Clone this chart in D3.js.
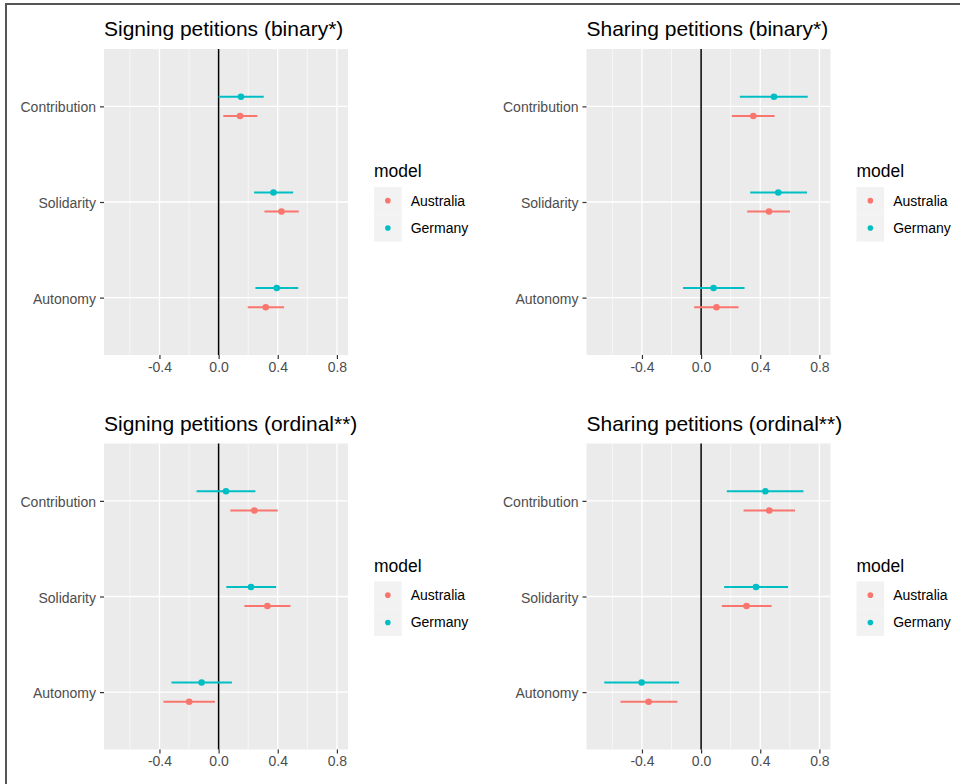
<!DOCTYPE html>
<html>
<head>
<meta charset="utf-8">
<script src="https://cdn.jsdelivr.net/npm/d3@7"></script>
<style>
  html, body { margin: 0; padding: 0; background: #fff; }
  svg { display: block; font-family: "Liberation Sans", Arial, sans-serif; }
</style>
</head>
<body>
<svg id="chart" width="960" height="784"></svg>
<script>
// ---------------- data ----------------
const categories = ["Contribution", "Solidarity", "Autonomy"];
const models = ["Australia", "Germany"];
const modelColors = ["#F8766D", "#00BFC4"];
const legendTitle = "model";
const xTicks = [-0.4, 0.0, 0.4, 0.8];
const xMinorTicks = [-0.6, -0.2, 0.2, 0.6];
const xLimits = [-0.7, 0.8];

const panelTitles = [
  "Signing petitions (binary*)",
  "Sharing petitions (binary*)",
  "Signing petitions (ordinal**)",
  "Sharing petitions (ordinal**)"
];

// Signing petitions (binary*)
const signBinAusEst = [0.145, 0.425, 0.319];
const signBinAusLo  = [0.032, 0.310, 0.197];
const signBinAusHi  = [0.262, 0.542, 0.443];
const signBinGerEst = [0.151, 0.371, 0.393];
const signBinGerLo  = [0.000, 0.240, 0.249];
const signBinGerHi  = [0.305, 0.504, 0.538];

// Sharing petitions (binary*)
const shareBinAusEst = [0.353, 0.459, 0.104];
const shareBinAusLo  = [0.208, 0.312, -0.047];
const shareBinAusHi  = [0.497, 0.601, 0.253];
const shareBinGerEst = [0.493, 0.522, 0.084];
const shareBinGerLo  = [0.262, 0.332, -0.122];
const shareBinGerHi  = [0.721, 0.716, 0.294];

// Signing petitions (ordinal**)
const signOrdAusEst = [0.242, 0.330, -0.199];
const signOrdAusLo  = [0.079, 0.174, -0.373];
const signOrdAusHi  = [0.400, 0.486, -0.025];
const signOrdGerEst = [0.050, 0.219, -0.115];
const signOrdGerLo  = [-0.149, 0.052, -0.319];
const signOrdGerHi  = [0.249, 0.389, 0.090];

// Sharing petitions (ordinal**)
const shareOrdAusEst = [0.461, 0.307, -0.355];
const shareOrdAusLo  = [0.287, 0.140, -0.545];
const shareOrdAusHi  = [0.635, 0.477, -0.160];
const shareOrdGerEst = [0.434, 0.371, -0.402];
const shareOrdGerLo  = [0.174, 0.156, -0.655];
const shareOrdGerHi  = [0.692, 0.588, -0.149];

// build tables from the arrays
function rows(est, lo, hi, model) {
  return categories.map((c, i) => ({ category: c, model, est: est[i], lo: lo[i], hi: hi[i] }));
}
const panelData = [
  rows(signBinAusEst, signBinAusLo, signBinAusHi, "Australia").concat(rows(signBinGerEst, signBinGerLo, signBinGerHi, "Germany")),
  rows(shareBinAusEst, shareBinAusLo, shareBinAusHi, "Australia").concat(rows(shareBinGerEst, shareBinGerLo, shareBinGerHi, "Germany")),
  rows(signOrdAusEst, signOrdAusLo, signOrdAusHi, "Australia").concat(rows(signOrdGerEst, signOrdGerLo, signOrdGerHi, "Germany")),
  rows(shareOrdAusEst, shareOrdAusLo, shareOrdAusHi, "Australia").concat(rows(shareOrdGerEst, shareOrdGerLo, shareOrdGerHi, "Germany"))
];

// ---------------- layout ----------------
const svg = d3.select("#chart");
const color = d3.scaleOrdinal().domain(models).range(modelColors);
const fmt = d => d3.format(".1f")(d).replace("\u2212", "-");

// outer frame (screenshot border)
svg.append("path")
  .attr("d", "M6,784 L6,4 L960,4")
  .attr("fill", "none")
  .attr("stroke", "#555")
  .attr("stroke-width", 2);

const colX = [104, 586.5];
const rowY = [49, 443.5];
const plotW = 244, plotH = 306;

const span = xLimits[1] - xLimits[0];
const xDomain = [xLimits[0] - 0.05 * span, xLimits[1] + 0.05 * span];

panelData.forEach((data, p) => {
  const x0 = colX[p % 2], y0 = rowY[Math.floor(p / 2)];
  const g = svg.append("g").attr("transform", `translate(${x0},${y0})`);

  const x = d3.scaleLinear().domain(xDomain).range([0, plotW]);
  const y = d3.scalePoint().domain(categories).range([0, plotH]).padding(0.6);
  const dodge = d3.scalePoint().domain(["Germany", "Australia"]).range([-0.1 * y.step(), 0.1 * y.step()]);

  // panel background
  g.append("rect").attr("width", plotW).attr("height", plotH).attr("fill", "#EBEBEB");

  // minor grid
  g.selectAll(".minor").data(xMinorTicks).join("line")
    .attr("x1", d => x(d)).attr("x2", d => x(d))
    .attr("y1", 0).attr("y2", plotH)
    .attr("stroke", "#fff").attr("stroke-width", 0.6);
  // major grid x
  g.selectAll(".majorx").data(xTicks).join("line")
    .attr("x1", d => x(d)).attr("x2", d => x(d))
    .attr("y1", 0).attr("y2", plotH)
    .attr("stroke", "#fff").attr("stroke-width", 1.3);
  // major grid y
  g.selectAll(".majory").data(categories).join("line")
    .attr("x1", 0).attr("x2", plotW)
    .attr("y1", d => y(d)).attr("y2", d => y(d))
    .attr("stroke", "#fff").attr("stroke-width", 1.3);

  // zero reference line
  g.append("line")
    .attr("x1", x(0)).attr("x2", x(0)).attr("y1", 0).attr("y2", plotH)
    .attr("stroke", "#000").attr("stroke-width", 1.5);

  // error bars
  g.selectAll(".err").data(data).join("line")
    .attr("x1", d => x(d.lo)).attr("x2", d => x(d.hi))
    .attr("y1", d => y(d.category) + dodge(d.model))
    .attr("y2", d => y(d.category) + dodge(d.model))
    .attr("stroke", d => color(d.model)).attr("stroke-width", 2);
  // points
  g.selectAll(".pt").data(data).join("circle")
    .attr("cx", d => x(d.est))
    .attr("cy", d => y(d.category) + dodge(d.model))
    .attr("r", 3.3)
    .attr("fill", d => color(d.model));

  // x axis
  const xAxis = g.append("g").attr("transform", `translate(0,${plotH})`)
    .call(d3.axisBottom(x).tickValues(xTicks).tickFormat(fmt).tickSize(4).tickPadding(3));
  xAxis.select(".domain").remove();
  xAxis.selectAll(".tick line").attr("stroke", "#333").attr("stroke-width", 1.2);
  xAxis.selectAll(".tick text").attr("fill", "#4D4D4D").attr("font-size", 14)
    .attr("font-family", "Liberation Sans, Arial, sans-serif");

  // y axis
  const yAxis = g.append("g")
    .call(d3.axisLeft(y).tickSize(4).tickPadding(4));
  yAxis.select(".domain").remove();
  yAxis.selectAll(".tick line").attr("stroke", "#333").attr("stroke-width", 1.2);
  yAxis.selectAll(".tick text").attr("fill", "#4D4D4D").attr("font-size", 14)
    .attr("dy", "0.4em")
    .attr("font-family", "Liberation Sans, Arial, sans-serif");

  // title
  g.append("text")
    .attr("x", 0).attr("y", -13)
    .attr("font-size", 21).attr("fill", "#000")
    .text(panelTitles[p]);

  // legend
  const lg = g.append("g").attr("transform", `translate(${plotW + 26},${128})`);
  lg.append("text").attr("x", 0).attr("y", 0).attr("font-size", 17.5).attr("fill", "#000").text(legendTitle);
  const keyH = 27.3, keyW = 27.7, keyTop = 10;
  models.forEach((m, i) => {
    lg.append("rect").attr("x", 0).attr("y", keyTop + i * keyH)
      .attr("width", keyW).attr("height", keyH).attr("fill", "#F2F2F2");
    lg.append("circle").attr("cx", keyW / 2).attr("cy", keyTop + i * keyH + keyH / 2)
      .attr("r", 2.8).attr("fill", color(m));
    lg.append("text").attr("x", keyW + 9).attr("y", keyTop + i * keyH + keyH / 2)
      .attr("dy", "0.35em").attr("font-size", 14).attr("fill", "#000").text(m);
  });
});
</script>
</body>
</html>
